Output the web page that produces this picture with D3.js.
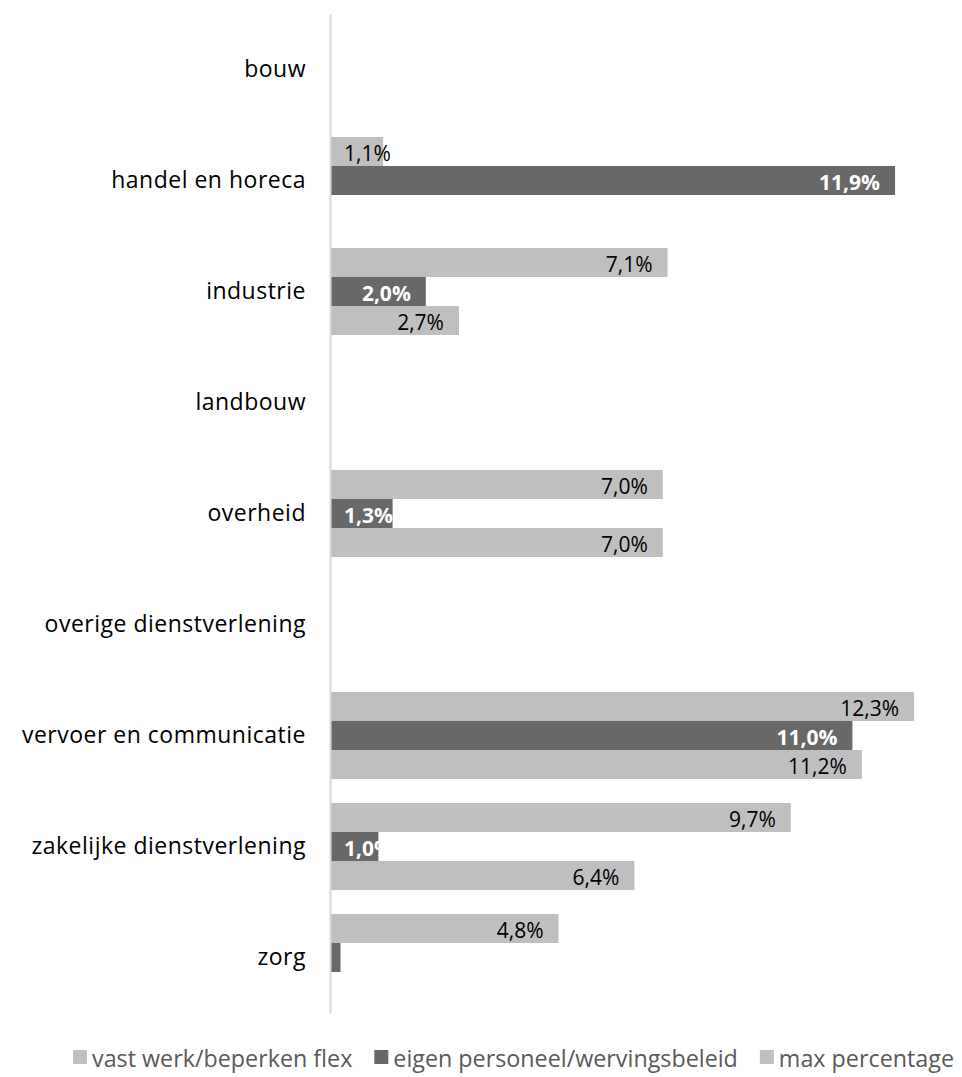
<!DOCTYPE html>
<html><head><meta charset="utf-8">
<script src="https://cdn.jsdelivr.net/npm/d3@7"></script>
<style>body{margin:0;background:#fff}svg{display:block}text{font-family:"Open Sans",sans-serif}</style>
</head><body><svg id="c" width="962" height="1077"></svg>
<script>
const categories = ["bouw","handel en horeca","industrie","landbouw","overheid","overige dienstverlening","vervoer en communicatie","zakelijke dienstverlening","zorg"];
const seriesNames = ["vast werk/beperken flex","eigen personeel/wervingsbeleid","max percentage"];
const vastWerk = [null,1.1,7.1,null,7.0,null,12.3,9.7,4.8];
const eigenPersoneel = [null,11.9,2.0,null,1.3,null,11.0,1.0,0.2];
const maxPercentage = [null,null,2.7,null,7.0,null,11.2,6.4,null];
const colors = ["#bfbfbf","#686868","#bfbfbf"];
const labelColors = ["#000","#fff","#000"];
const labelWeights = ["normal","bold","normal"];

const svg = d3.select("#c");
const x = d3.scaleLinear().domain([0,13]).range([331, 331+13*47.4]);
const y = d3.scaleBand().domain(categories).range([14,1013]).paddingInner(0.216).paddingOuter(0.108);
const yi = d3.scaleBand().domain([0,1,2]).range([0,y.bandwidth()]);
const series = [vastWerk, eigenPersoneel, maxPercentage];
const fmt = v => d3.format(".1f")(v).replace(".",",")+"%";

series.forEach((vals,si)=>{
  const g = svg.append("g");
  categories.forEach((c,i)=>{
    const v = vals[i];
    if(v==null) return;
    const y0 = y(c)+yi(si);
    g.append("rect").attr("x",x(0)).attr("y",y0).attr("width",x(v)-x(0)).attr("height",yi.bandwidth()).attr("fill",colors[si]);
    if(v>=0.5){
      const t = g.append("text").attr("y",y0+yi.bandwidth()/2+1.5).attr("text-anchor","end")
        .attr("dominant-baseline","central").attr("font-size",21).attr("font-weight",labelWeights[si])
        .attr("fill",labelColors[si]).text(fmt(v));
      const w = t.node().getComputedTextLength();
      t.attr("x", Math.max(x(v)-15, x(0)+13+w));
    }
  });
});

// axis
const axis = d3.axisLeft(y).tickSize(0).tickPadding(24);
const ag = svg.append("g").attr("transform",`translate(${x(0)-1},0)`).call(axis);
ag.select(".domain").attr("stroke","#d9d9d9").attr("stroke-width",2);
ag.selectAll("text").attr("font-size",23).attr("letter-spacing","0.5px").attr("fill","#000").attr("font-family","'Open Sans',sans-serif");

// legend
const lg = svg.append("g");
let lx = 73;
seriesNames.forEach((n,i)=>{
  lg.append("rect").attr("x",lx).attr("y",1050).attr("width",14).attr("height",14).attr("fill",colors[i]);
  const t = lg.append("text").attr("x",lx+19).attr("y",1058).attr("dominant-baseline","central")
    .attr("font-size",23.3).attr("fill","#595959").text(n);
  lx += 19 + t.node().getComputedTextLength() + 22;
});
</script></body></html>
